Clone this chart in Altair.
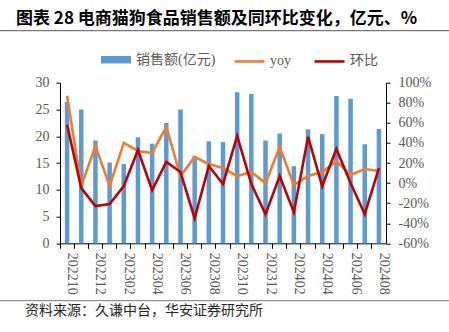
import altair as alt
import pandas as pd

months = ['202210', '202211', '202212', '202301', '202302', '202303', '202304', '202305',
          '202306', '202307', '202308', '202309', '202310', '202311', '202312', '202401',
          '202402', '202403', '202404', '202405', '202406', '202407', '202408']
sales = [26.4, 25.0, 19.2, 15.1, 14.8, 19.8, 18.6, 22.5, 25.0, 16.3, 19.05, 18.9,
         28.2, 27.9, 19.2, 20.5, 14.4, 21.3, 20.4, 27.5, 27.0, 18.5, 21.35]
yoy = [87, -3, 37, -3, 40, 32, 30, 56, 7, 26, 19, 15, 7, 11, 0, 36, -2, 7, 11, 22, 8, 14, 12]
mom = [58, -5, -23, -21, -3, 33, -7, 21, 11, -35, 17, -1, 47, -1, -31, 7, -29, 46, -3, 34, 0, -31, 15]

series_names = ['销售额(亿元)', 'yoy', '环比']
series_colors = ['#5B9BD5', '#ED7D31', '#C00000']
left_ticks = [0, 5, 10, 15, 20, 25, 30]
right_ticks = [-60, -40, -20, 0, 20, 40, 60, 80, 100]
title_text = '图表 28 电商猫狗食品销售额及同环比变化，亿元、%'
source_text = '资料来源：久谦中台，华安证券研究所'

bar_df = pd.DataFrame({'month': months, 'sales': sales, 'series': series_names[0]})
line_df = pd.concat([
    pd.DataFrame({'month': months, 'pct': yoy, 'series': series_names[1]}),
    pd.DataFrame({'month': months, 'pct': mom, 'series': series_names[2]}),
], ignore_index=True)
one = pd.DataFrame({'k': [0]})

serif = 'Liberation Serif, Noto Sans CJK SC'
gray = '#595959'

xscale = alt.Scale(type='band', paddingInner=0, paddingOuter=0, domain=months)
xaxis = alt.Axis(title=None, labelAngle=90, bandPosition=0, labelOffset=5,
                 labelExpr="toNumber(datum.value) % 2 == 0 ? datum.value : ''",
                 tickSize=5, labelPadding=4, labelFont=serif, labelFontSize=14,
                 labelColor=gray, domainColor='#000', tickColor='#000',
                 labelOverlap=False, grid=False)

bars = alt.Chart(bar_df).mark_bar(size=4.5).encode(
    x=alt.X('month:N', scale=xscale, axis=xaxis, sort=months),
    y=alt.Y('sales:Q', scale=alt.Scale(domain=[0, 30], nice=False),
            axis=alt.Axis(title=None, orient='left', values=left_ticks, tickSize=4,
                          labelPadding=7, labelFont=serif, labelFontSize=14, labelColor=gray,
                          domainColor='#000', tickColor='#000', grid=False)),
    fill=alt.Fill('series:N', scale=alt.Scale(domain=[series_names[0]], range=[series_colors[0]]),
                  legend=alt.Legend(title=None, orient='none', legendX=41, legendY=-38,
                                    symbolType='M-1,-0.25H1V0.25H-1Z', symbolSize=900,
                                    symbolStrokeWidth=0, labelFont=serif, labelFontSize=14,
                                    labelColor=gray, labelOffset=5, padding=0)),
)

lines = alt.Chart(line_df).mark_line(strokeWidth=2.6).encode(
    x=alt.X('month:N', scale=xscale, axis=xaxis, sort=months),
    y=alt.Y('pct:Q', scale=alt.Scale(domain=[-60, 100], nice=False),
            axis=alt.Axis(title=None, orient='right', values=right_ticks, tickSize=4,
                          labelPadding=8, labelExpr="datum.value + '%'", labelFont=serif,
                          labelFontSize=14, labelColor=gray, domainColor='#000',
                          tickColor='#000', grid=False)),
    stroke=alt.Stroke('series:N', scale=alt.Scale(domain=series_names[1:], range=series_colors[1:]),
                      legend=alt.Legend(title=None, orient='none', direction='horizontal',
                                        legendX=173, legendY=-38, symbolType='stroke',
                                        symbolSize=900, symbolStrokeWidth=2.6, columnPadding=18,
                                        labelFont=serif, labelFontSize=14, labelColor=gray,
                                        labelOffset=4, padding=0)),
    order=alt.Order('series:N'),
)

title_mark = alt.Chart(one).mark_text(align='left', baseline='middle', fontSize=17,
                                      font='Noto Sans CJK SC', fontWeight='bold', color='#000').encode(
    x=alt.value(-44), y=alt.value(-64), text=alt.value(title_text))
top_rule = alt.Chart(one).mark_rule(color='#555555', strokeWidth=1).encode(
    x=alt.value(-60), x2=alt.value(389), y=alt.value(-52))
bottom_rule = alt.Chart(one).mark_rule(color='#777777', strokeWidth=1).encode(
    x=alt.value(-60), x2=alt.value(389), y=alt.value(218))
source_mark = alt.Chart(one).mark_text(align='left', baseline='middle', fontSize=14,
                                       font='Noto Sans CJK SC', color='#262626').encode(
    x=alt.value(-35), y=alt.value(228.5), text=alt.value(source_text))

chart = alt.layer(bars, lines, title_mark, top_rule, bottom_rule, source_mark).resolve_scale(
    y='independent'
).properties(
    width=326, height=160.6,
    padding={'left': 60, 'top': 82.7, 'right': 63, 'bottom': 88.7},
    autosize=alt.AutoSizeParams(type='none'),
    background='white',
).configure_view(stroke=None)

chart.save('out.html', embed_options={'renderer': 'svg', 'actions': False})
